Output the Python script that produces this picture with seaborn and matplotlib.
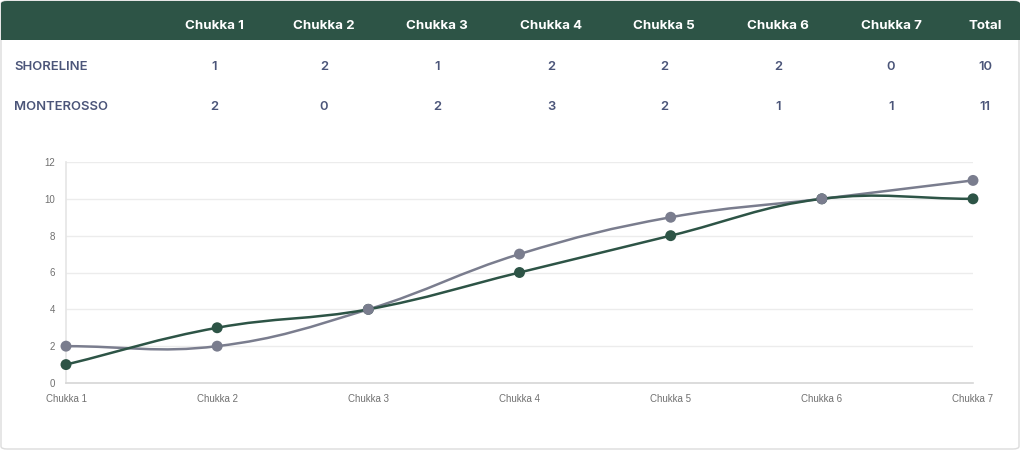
import numpy as np
import pandas as pd
import seaborn as sns
import matplotlib.pyplot as plt
from matplotlib.path import Path
from matplotlib.patches import PathPatch, FancyBboxPatch, Rectangle

# Score table and cumulative chart data
chukkas = ["Chukka 1", "Chukka 2", "Chukka 3", "Chukka 4", "Chukka 5", "Chukka 6", "Chukka 7"]
teams = ["SHORELINE", "MONTEROSSO"]
shoreline_goals = [1, 2, 1, 2, 2, 2, 0]
monterosso_goals = [2, 0, 2, 3, 2, 1, 1]
totals = [10, 11]
shoreline_cum = [1, 3, 4, 6, 8, 10, 10]
monterosso_cum = [2, 2, 4, 7, 9, 10, 11]
y_ticks = [0, 2, 4, 6, 8, 10, 12]

green = "#2d5446"
slate = "#7a7d8e"
text_col = "#4b5579"

sns.set_theme(style="white")
plt.rcParams['font.family'] = ['Inter', 'DejaVu Sans']

W, H = 1024, 451
fig = plt.figure(figsize=(W / 100, H / 100), dpi=100)
fig.patch.set_facecolor("white")


def fx(px):
    return px / W


def fy(py):
    return 1 - py / H


# Card outline
fig.patches.append(FancyBboxPatch((fx(1), fy(449)), fx(1018), (448) / H,
                                  boxstyle="round,pad=0,rounding_size=0.006",
                                  transform=fig.transFigure, facecolor="white",
                                  edgecolor="#dcdcdc", linewidth=1, zorder=-2))
# Header bar (rounded top, square bottom)
fig.patches.append(FancyBboxPatch((fx(1), fy(40)), fx(1019), 39 / H,
                                  boxstyle="round,pad=0,rounding_size=0.006",
                                  transform=fig.transFigure, facecolor=green,
                                  edgecolor="none", zorder=-1))
fig.patches.append(Rectangle((fx(1), fy(40)), fx(1019), 15 / H,
                             transform=fig.transFigure, facecolor=green,
                             edgecolor="none", zorder=-1))

col_x = [214, 324, 437, 551, 664, 778, 891]
total_x = 985
for cx, name in zip(col_x, chukkas):
    fig.text(fx(cx), fy(26), name, color="white", fontsize=9.6, fontweight="bold",
             ha="center", va="center", zorder=3)
fig.text(fx(total_x), fy(26), "Total", color="white", fontsize=9.6, fontweight="bold",
         ha="center", va="center", zorder=3)

rows_y = [67, 107]
for ry, team, goals, tot in zip(rows_y, teams, [shoreline_goals, monterosso_goals], totals):
    fig.text(fx(14), fy(ry), team, color=text_col, fontsize=9.4, fontweight="semibold",
             ha="left", va="center")
    for cx, g in zip(col_x, goals):
        fig.text(fx(cx), fy(ry), str(g), color=text_col, fontsize=9.4, fontweight="semibold",
                 ha="center", va="center")
    fig.text(fx(total_x), fy(ry), str(tot), color=text_col, fontsize=9.4, fontweight="semibold",
             ha="center", va="center")

# Chart
ax = fig.add_axes([fx(66), fy(383), fx(973 - 66), (383 - 162) / H])
ax.set_zorder(2)
ax.set_facecolor("none")
df = pd.DataFrame({
    "x": list(range(len(chukkas))) * 2,
    "score": shoreline_cum + monterosso_cum,
    "team": ["SHORELINE"] * len(chukkas) + ["MONTEROSSO"] * len(chukkas),
})
ax.set_xlim(0, len(chukkas) - 1)
ax.set_ylim(0, 12)


def smooth_path(xs, ys, tension=0.4):
    # Chart.js style spline, control points computed in display space
    pts = ax.transData.transform(np.column_stack([xs, ys]))
    n = len(pts)
    verts = [pts[0]]
    codes = [Path.MOVETO]
    cp_prev, cp_next = [], []
    for i in range(n):
        p0 = pts[max(i - 1, 0)]
        p1 = pts[i]
        p2 = pts[min(i + 1, n - 1)]
        d01 = np.hypot(*(p1 - p0))
        d12 = np.hypot(*(p2 - p1))
        s01 = d01 / (d01 + d12) if d01 + d12 else 0
        s12 = d12 / (d01 + d12) if d01 + d12 else 0
        cp_prev.append(p1 - tension * s01 * (p2 - p0))
        cp_next.append(p1 + tension * s12 * (p2 - p0))
    for i in range(1, n):
        verts += [cp_next[i - 1], cp_prev[i], pts[i]]
        codes += [Path.CURVE4] * 3
    verts = ax.transData.inverted().transform(np.array(verts))
    return Path(verts, codes)


for team, col in [("MONTEROSSO", slate), ("SHORELINE", green)]:
    sub = df[df["team"] == team]
    ax.add_patch(PathPatch(smooth_path(sub["x"].values, sub["score"].values),
                           facecolor="none", edgecolor=col, linewidth=1.8,
                           zorder=3, clip_on=False))

sns.scatterplot(data=df, x="x", y="score", hue="team",
                palette={"SHORELINE": green, "MONTEROSSO": slate},
                s=62, edgecolor="none", legend=False, ax=ax, zorder=4, clip_on=False)

ax.set_xticks(range(len(chukkas)))
ax.set_xticklabels(chukkas)
ax.set_yticks(y_ticks)
ax.set_xlabel("")
ax.set_ylabel("")
ax.yaxis.grid(True, color="#ececec", linewidth=1)
ax.xaxis.grid(False)
for lbl in ax.get_xticklabels() + ax.get_yticklabels():
    lbl.set_family(['Liberation Sans', 'DejaVu Sans'])
ax.tick_params(axis="x", labelsize=7, colors="#707070", length=0, pad=8)
ax.tick_params(axis="y", labelsize=7, colors="#707070", length=0, pad=8)
for s in ["top", "right"]:
    ax.spines[s].set_visible(False)
ax.spines["left"].set_color("#e6e6e6")
ax.spines["bottom"].set_color("#d6d6d6")
ax.spines["bottom"].set_linewidth(1.2)

fig.savefig("out.png", dpi=100)
